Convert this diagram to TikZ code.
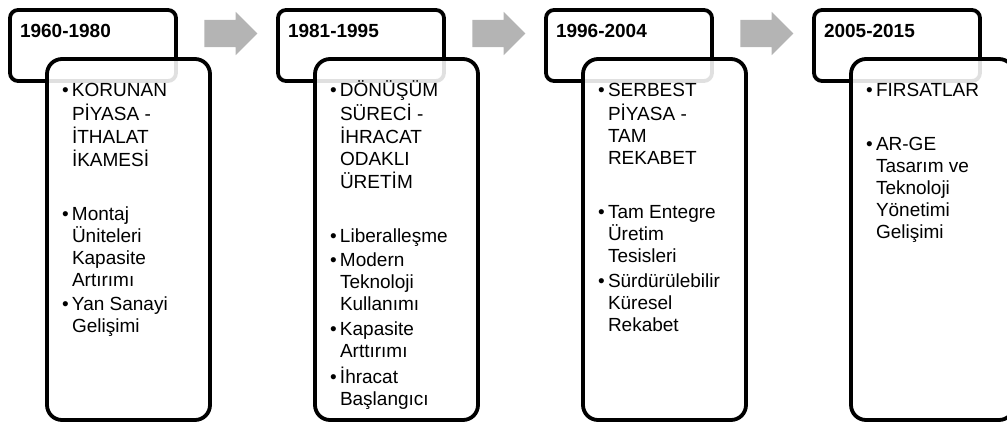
\documentclass[tikz,border=0pt]{standalone}
\usepackage{fontspec}
\setmainfont{Liberation Sans}
\usepackage{tikz}
\usetikzlibrary{shapes.arrows}

\definecolor{arrowgray}{HTML}{B4B4B4}
\newcommand{\bul}{\makebox[10pt][l]{\textbullet}}

\begin{document}
\begin{tikzpicture}[x=1pt,y=-1pt]
	\tikzstyle{every node}=[inner sep=0pt, outer sep=0pt]
	\tikzstyle{yearbox}=[draw, line width=3.8pt, rounded corners=8pt, minimum width=166pt, minimum height=71pt, anchor=north west]
	\tikzstyle{itembox}=[draw, line width=3.8pt, rounded corners=15pt, fill=white, fill opacity=0.88, minimum width=163pt, minimum height=361pt, anchor=north west]
	\tikzstyle{yeartext}=[anchor=base west, font=\fontsize{19}{22}\selectfont\bfseries]
	\tikzstyle{itemtext}=[anchor=base west, align=left, font=\fontsize{19}{22}\selectfont]
	\tikzstyle{stepto}=[single arrow, fill=arrowgray, draw=none, minimum height=53pt, minimum width=43pt, inner ysep=13.5pt, single arrow head extend=8pt]
	\useasboundingbox (0,0) rectangle (1007,425);
	\clip (0,0) rectangle (1007,425);

	% 1960-1980
	\node[yearbox] (h1) at (10,10) {};
	\node[yeartext] (y1) at (20,38) {1960-1980};
	\node[itembox] (b1) at (47,59) {};
	\node[itemtext] (t1) at (62,97) {\begin{tabular}[t]{@{}l@{}l@{}}
		\bul & KORUNAN\\ & PİYASA -\\ & İTHALAT\\ & İKAMESİ\\[32pt]
		\bul & Montaj\\ & Üniteleri\\ & Kapasite\\ & Artırımı\\[2pt]
		\bul & Yan Sanayi\\ & Gelişimi
	\end{tabular}};

	% 1981-1995
	\node[yearbox] (h2) at (278,10) {};
	\node[yeartext] (y2) at (288,38) {1981-1995};
	\node[itembox] (b2) at (315,59) {};
	\node[itemtext] (t2) at (330,97) {\begin{tabular}[t]{@{}l@{}l@{}}
		\bul & DÖNÜŞÜM\\ & SÜRECİ -\\ & İHRACAT\\ & ODAKLI\\ & ÜRETİM\\[32pt]
		\bul & Liberalleşme\\[2pt]
		\bul & Modern\\ & Teknoloji\\ & Kullanımı\\[3pt]
		\bul & Kapasite\\ & Arttırımı\\[3pt]
		\bul & İhracat\\ & Başlangıcı
	\end{tabular}};

	% 1996-2004
	\node[yearbox] (h3) at (546,10) {};
	\node[yeartext] (y3) at (556,38) {1996-2004};
	\node[itembox] (b3) at (583,59) {};
	\node[itemtext] (t3) at (598,97) {\begin{tabular}[t]{@{}l@{}l@{}}
		\bul & SERBEST\\ & PİYASA -\\ & TAM\\ & REKABET\\[32pt]
		\bul & Tam Entegre\\ & Üretim\\ & Tesisleri\\[3pt]
		\bul & Sürdürülebilir\\ & Küresel\\ & Rekabet
	\end{tabular}};

	% 2005-2015
	\node[yearbox] (h4) at (814,10) {};
	\node[yeartext] (y4) at (824,38) {2005-2015};
	\node[itembox] (b4) at (851,59) {};
	\node[itemtext] (t4) at (866,97) {\begin{tabular}[t]{@{}l@{}l@{}}
		\bul & FIRSATLAR\\[32pt]
		\bul & AR-GE\\ & Tasarım ve\\ & Teknoloji\\ & Yönetimi\\ & Gelişimi
	\end{tabular}};

	% arrows between the periods
	\node[stepto] (a1) at (224,33.5) {};
	\node[stepto] (a2) at (492,33.5) {};
	\node[stepto] (a3) at (760,33.5) {};
\end{tikzpicture}
\end{document}
